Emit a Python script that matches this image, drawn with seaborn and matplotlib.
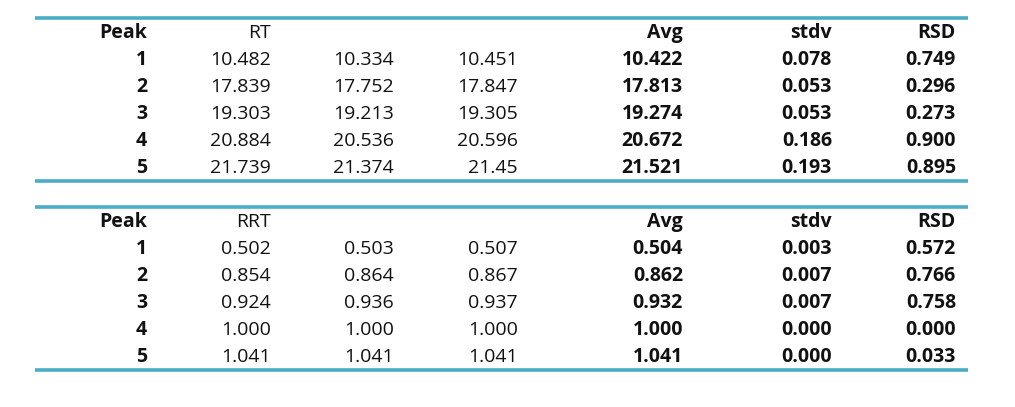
import matplotlib
matplotlib.use("Agg")
import matplotlib.pyplot as plt
import seaborn as sns

# table contents
peaks = ["1", "2", "3", "4", "5"]
rt_run1 = ["10.482", "17.839", "19.303", "20.884", "21.739"]
rt_run2 = ["10.334", "17.752", "19.213", "20.536", "21.374"]
rt_run3 = ["10.451", "17.847", "19.305", "20.596", "21.45"]
rt_avg = ["10.422", "17.813", "19.274", "20.672", "21.521"]
rt_stdv = ["0.078", "0.053", "0.053", "0.186", "0.193"]
rt_rsd = ["0.749", "0.296", "0.273", "0.900", "0.895"]

rrt_run1 = ["0.502", "0.854", "0.924", "1.000", "1.041"]
rrt_run2 = ["0.503", "0.864", "0.936", "1.000", "1.041"]
rrt_run3 = ["0.507", "0.867", "0.937", "1.000", "1.041"]
rrt_avg = ["0.504", "0.862", "0.932", "1.000", "1.041"]
rrt_stdv = ["0.003", "0.007", "0.007", "0.000", "0.000"]
rrt_rsd = ["0.572", "0.766", "0.758", "0.000", "0.033"]

headers_rt = ["Peak", "RT", "", "", "Avg", "stdv", "RSD"]
headers_rrt = ["Peak", "RRT", "", "", "Avg", "stdv", "RSD"]
bold_cols = [0, 4, 5, 6]

sns.set_theme(style="white")
plt.rcParams["font.family"] = ["Open Sans", "DejaVu Sans"]

fig = plt.figure(figsize=(10.15, 4.07), dpi=100)
ax = fig.add_axes([0, 0, 1, 1])
ax.set_xlim(0, 1015)
ax.set_ylim(407, 0)
ax.axis("off")

col_right = [147, 271, 394, 518, 683, 832, 956]
teal = "#4BACC6"


def draw_table(top, headers, cols):
    ax.hlines(top, 35, 968, color=teal, lw=2.6)
    for j, h in enumerate(headers):
        ax.text(col_right[j], top + 20, h, ha="right", va="baseline", fontsize=14,
                fontweight="bold" if j in bold_cols else "normal", color="#111111")
    for i in range(len(peaks)):
        y = top + 47 + i * 27
        for j, col in enumerate(cols):
            ax.text(col_right[j], y, col[i], ha="right", va="baseline", fontsize=14,
                    fontweight="bold" if j in bold_cols else "normal", color="#111111")
    ax.hlines(top + 163, 35, 968, color=teal, lw=2.6)


draw_table(18, headers_rt, [peaks, rt_run1, rt_run2, rt_run3, rt_avg, rt_stdv, rt_rsd])
draw_table(207, headers_rrt, [peaks, rrt_run1, rrt_run2, rrt_run3, rrt_avg, rrt_stdv, rrt_rsd])

fig.savefig("out.png", dpi=100)
